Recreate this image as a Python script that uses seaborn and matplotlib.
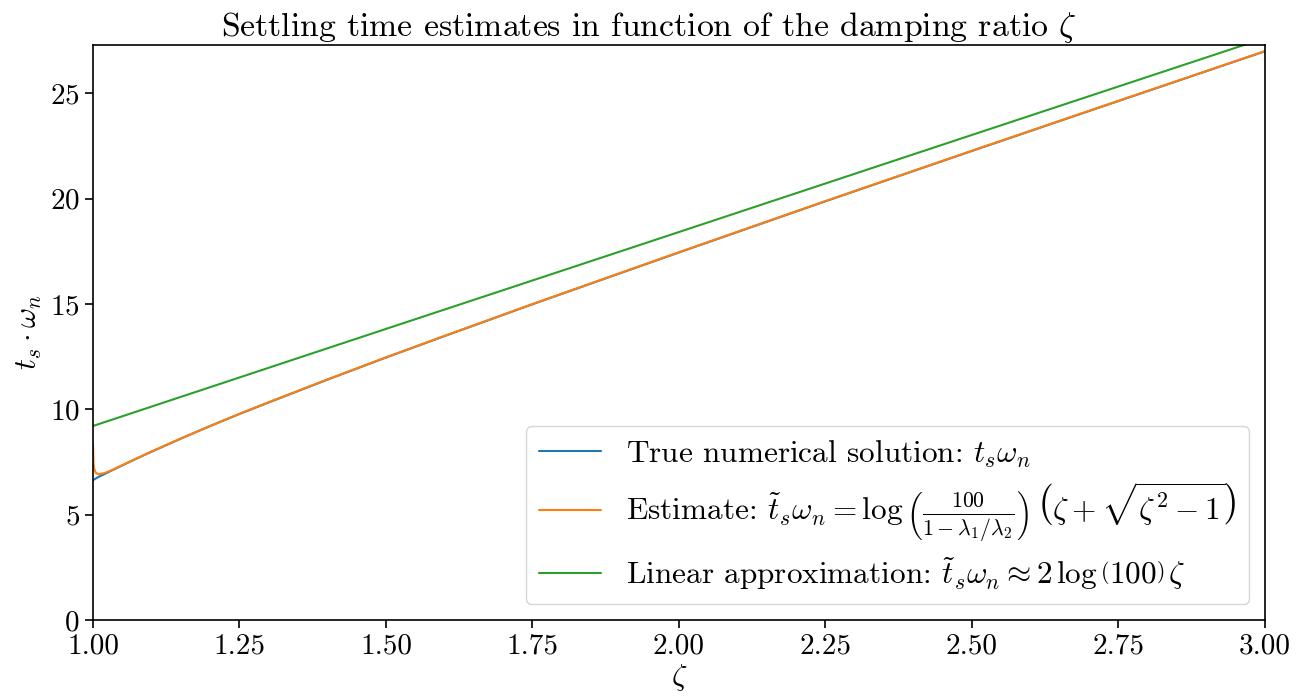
import numpy as np
import pandas as pd
import seaborn as sns
import matplotlib.pyplot as plt

# values
zeta_true = [1.0, 1.005, 1.01, 1.02, 1.03, 1.05, 1.075, 1.1, 1.15, 1.2, 1.25, 1.3, 1.4, 1.5,
             1.6, 1.75, 2.0, 2.25, 2.5, 2.75, 3.0]
ts_true = [6.64, 6.72, 6.80, 6.93, 7.07, 7.34, 7.67, 7.99, 8.61, 9.21, 9.78, 10.33, 11.41, 12.46,
           13.48, 14.99, 17.45, 19.88, 22.27, 24.64, 27.00]

zeta_est = [1.0001, 1.001, 1.002, 1.005, 1.01, 1.02, 1.03, 1.05, 1.075, 1.1, 1.15, 1.2, 1.25,
            1.3, 1.4, 1.5, 1.6, 1.75, 2.0, 2.25, 2.5, 2.75, 3.0]
ts_est = [8.35, 7.39, 7.18, 6.98, 6.92, 6.98, 7.09, 7.35, 7.68, 8.00, 8.62, 9.21, 9.79,
          10.34, 11.42, 12.47, 13.49, 15.00, 17.46, 19.89, 22.28, 24.65, 27.01]

zeta_lin = [1.0, 1.5, 2.0, 2.5, 3.0]
ts_lin = [9.21, 13.82, 18.42, 23.03, 27.63]

labels = [r'True numerical solution: $t_s \omega_n$',
          r'Estimate: $\tilde{t}_s \omega_n = \log\left(\frac{100}{1 - \lambda_1 / \lambda_2}\right)'
          r'\,\left(\zeta + \sqrt{\zeta^2 - 1}\right)$',
          r'Linear approximation: $\tilde{t}_s \omega_n \approx 2\,\log\left(100\right)\,\zeta$']

df = pd.concat([
    pd.DataFrame({'zeta': zeta_true, 'ts': ts_true, 'series': labels[0]}),
    pd.DataFrame({'zeta': zeta_est, 'ts': ts_est, 'series': labels[1]}),
    pd.DataFrame({'zeta': zeta_lin, 'ts': ts_lin, 'series': labels[2]}),
])

sns.set_style('ticks', rc={'text.color': 'black', 'axes.labelcolor': 'black',
                           'xtick.color': 'black', 'ytick.color': 'black',
                           'axes.edgecolor': 'black'})
plt.rcParams['font.family'] = 'serif'
plt.rcParams['font.serif'] = ['cmr10']
plt.rcParams['mathtext.fontset'] = 'cm'
plt.rcParams['axes.formatter.use_mathtext'] = True
plt.rcParams['axes.unicode_minus'] = False

fig, ax = plt.subplots(figsize=(13, 7), dpi=100)
fig.subplots_adjust(left=0.0715, right=0.973, top=0.9357, bottom=0.1143)

sns.lineplot(data=df, x='zeta', y='ts', hue='series', hue_order=labels,
             palette=sns.color_palette('tab10', 3), linewidth=1.5, ax=ax, sort=False)

ax.set_xlim(1.0, 3.0)
ax.set_ylim(0, 27.3)
xt = [1.0, 1.25, 1.5, 1.75, 2.0, 2.25, 2.5, 2.75, 3.0]
ax.set_xticks(xt)
ax.set_xticklabels([f'{v:.2f}' for v in xt])
ax.tick_params(labelsize=21, width=1.2, length=6)
for s in ax.spines.values():
    s.set_linewidth(1.2)
ax.set_xlabel(r'$\zeta$', fontsize=22, labelpad=2)
ax.set_ylabel(r'$t_s \cdot \omega_n$', fontsize=22)
ax.set_title(r'Settling time estimates in function of the damping ratio $\zeta$',
             fontsize=24.3, pad=6, x=0.474)
ax.legend(loc='lower right', fontsize=22.5, title=None, handlelength=2.0, labelspacing=0.35)

fig.savefig('out.png')
